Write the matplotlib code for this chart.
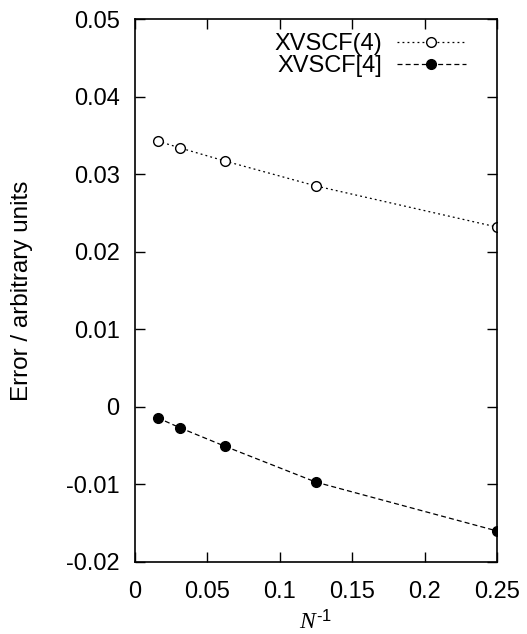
import matplotlib
matplotlib.use("Agg")
import matplotlib.pyplot as plt

# inverse grid size N^-1
inv_n = [1/64, 1/32, 1/16, 1/8, 1/4]
err_round = [0.0343, 0.0334, 0.0317, 0.0285, 0.0232]   # XVSCF(4)
err_square = [-0.0014, -0.0027, -0.0051, -0.0097, -0.0160]  # XVSCF[4]

plt.rcParams['font.family'] = ['Liberation Sans', 'DejaVu Sans']
plt.rcParams['mathtext.fontset'] = 'custom'
plt.rcParams['mathtext.it'] = 'Liberation Serif:italic'
plt.rcParams['mathtext.rm'] = 'Liberation Sans'

fig = plt.figure(figsize=(5.27, 6.34), dpi=100)
ax = fig.add_axes([0.256, 0.1136, 0.687, 0.856])

ax.plot(inv_n, err_round, linestyle=(0, (1.5, 2.5)), color='black', lw=0.9,
        marker='o', mfc='white', mec='black', ms=7, mew=1.0, label='XVSCF(4)')
ax.plot(inv_n, err_square, linestyle=(0, (4, 2.5)), color='black', lw=0.9,
        marker='o', mfc='black', mec='black', ms=7, label='XVSCF[4]')

ax.set_xlim(0, 0.25)
ax.set_ylim(-0.02, 0.05)
ax.set_xticks([0, 0.05, 0.1, 0.15, 0.2, 0.25])
ax.set_xticklabels(['0', '0.05', '0.1', '0.15', '0.2', '0.25'])
ax.set_yticks([-0.02, -0.01, 0, 0.01, 0.02, 0.03, 0.04, 0.05])
ax.set_yticklabels(['-0.02', '-0.01', '0', '0.01', '0.02', '0.03', '0.04', '0.05'])
ax.tick_params(direction='in', top=True, right=True, length=7, width=1,
               labelsize=17)
ax.tick_params(axis='x', pad=14)
ax.tick_params(axis='y', pad=11)
for s in ax.spines.values():
    s.set_linewidth(1.2)

ax.set_xlabel(r'$\mathit{N}^{\text{-1}}$', fontsize=17, labelpad=5)
ax.set_ylabel('Error / arbitrary units', fontsize=17.5)
ax.yaxis.set_label_coords(-0.282, 0.5)

ax.legend(loc='upper right', bbox_to_anchor=(0.972, 1.013), frameon=False,
          markerfirst=False, fontsize=17,
          handlelength=2.9, handletextpad=0.65, borderaxespad=0.5,
          labelspacing=0.0, borderpad=0.4)

fig.savefig('out.png', dpi=100)
